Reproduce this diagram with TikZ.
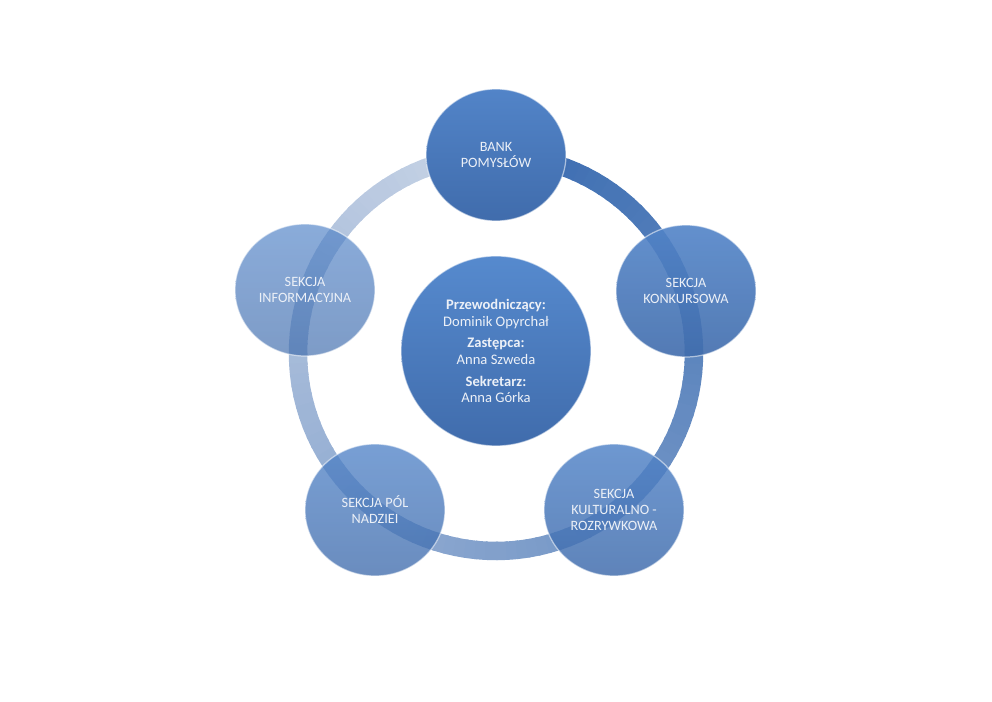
\documentclass[tikz,border=0pt]{standalone}
\usepackage{fontspec}
\setmainfont{Carlito}
\usetikzlibrary{shapes.geometric}
\definecolor{ringlight}{RGB}{200,212,230}
\definecolor{ringdark}{RGB}{56,106,176}
\definecolor{kolotop}{RGB}{82,132,200}
\definecolor{kolobot}{RGB}{64,108,172}
\definecolor{radatop}{RGB}{86,138,206}
\definecolor{napis}{RGB}{236,240,247}
\tikzset{
  sekcja/.style={ellipse,minimum width=2.8cm,minimum height=2.64cm,inner sep=0pt,
    top color=kolotop,bottom color=kolobot,draw=white,draw opacity=0.55,line width=0.7pt,
    text=napis,text opacity=1,align=center,font=\fontsize{8.1}{9.1}\selectfont},
  rada/.style={circle,minimum size=3.8cm,inner sep=0pt,
    top color=radatop,bottom color=kolobot,draw=white,draw opacity=0.55,line width=0.7pt,
    text=napis,align=center,font=\fontsize{8.3}{9.4}\selectfont}
}

\begin{document}
\begin{tikzpicture}[x=0.02cm,y=-0.02cm]
\useasboundingbox (0,0) rectangle (992,702);
\coordinate (ctr) at (496,353);
% ring, light at the top going round to dark
\foreach \a in {0,3,...,357}{
  \pgfmathtruncatemacro\p{\a/3.6}
  \draw[line width=0.37cm,ringdark!\p!ringlight] ([shift={(\a+90:3.96cm)}]ctr) arc[start angle=\a+90,end angle=\a+93.6,radius=3.96cm];
}
\node[sekcja,fill opacity=0.68] (info) at (305,290) {SEKCJA\\INFORMACYJNA};
\node[sekcja,fill opacity=0.78] (pol) at (375,510) {SEKCJA PÓL\\NADZIEI};
\node[sekcja,fill opacity=0.84] (kult) at (614,510) {SEKCJA\\KULTURALNO -\\ROZRYWKOWA};
\node[sekcja,fill opacity=0.9] (konk) at (686,291) {SEKCJA\\KONKURSOWA};
\node[sekcja] (bank) at (496,155) {BANK\\POMYSŁÓW};
\node[rada] (zarzad) at (496,351) {\textbf{Przewodniczący:}\\Dominik Opyrchał\\[3pt]
  \textbf{Zastępca:}\\Anna Szweda\\[3pt]\textbf{Sekretarz:}\\Anna Górka};
\end{tikzpicture}
\end{document}
